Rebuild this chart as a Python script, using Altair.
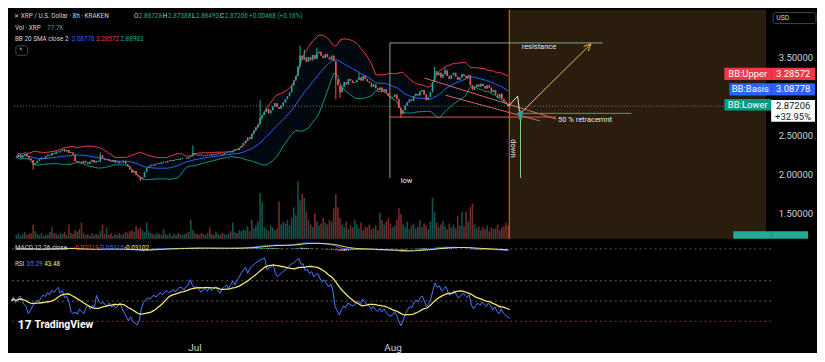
import altair as alt
import pandas as pd

# ---------------- values ----------------
closes = [
    2.22, 2.25, 2.21, 2.24, 2.26, 2.23, 2.20, 2.18, 2.12, 2.14,
    2.17, 2.19, 2.21, 2.20, 2.23, 2.25, 2.24, 2.27, 2.26, 2.29,
    2.28, 2.30, 2.32, 2.29, 2.31, 2.27, 2.28, 2.25, 2.17, 2.15,
    2.16, 2.14, 2.17, 2.15, 2.13, 2.16, 2.18, 2.15, 2.17, 2.16,
    2.24, 2.20, 2.18, 2.19, 2.17, 2.16, 2.18, 2.15, 2.16, 2.14,
    2.15, 2.17, 2.13, 2.10, 2.06, 2.02, 2.04, 1.99, 1.97, 1.94,
    1.96, 2.03, 2.08, 2.10, 2.12, 2.11, 2.13, 2.14, 2.13, 2.15,
    2.16, 2.15, 2.17, 2.18, 2.17, 2.18, 2.19, 2.18, 2.20, 2.21,
    2.21, 2.20, 2.22, 2.23, 2.27, 2.25, 2.24, 2.25, 2.24, 2.23,
    2.24, 2.25, 2.24, 2.26, 2.25, 2.26, 2.27, 2.26, 2.25, 2.27,
    2.28, 2.29, 2.28, 2.30, 2.32, 2.31, 2.34, 2.36, 2.40, 2.43,
    2.47, 2.45, 2.52, 2.56, 2.60, 2.64, 2.72, 2.76, 2.80, 2.84,
    2.78, 2.82, 2.87, 2.91, 2.86, 2.84, 2.88, 2.92, 2.96, 3.00,
    3.05, 3.14, 3.20, 3.26, 3.38, 3.52, 3.47, 3.50, 3.44, 3.50,
    3.46, 3.53, 3.48, 3.55, 3.57, 3.52, 3.49, 3.54, 3.50, 3.47,
    3.52, 3.45, 3.22, 3.14, 3.05, 3.12, 3.18, 3.15, 3.22, 3.20,
    3.17, 3.18, 3.21, 3.24, 3.20, 3.26, 3.22, 3.19, 3.17, 3.12,
    3.15, 3.10, 3.08, 3.11, 3.06, 3.09, 3.04, 3.00, 2.98, 2.99,
    3.02, 2.96, 2.85, 2.77, 2.82, 2.88, 2.92, 2.96, 2.94, 3.00,
    3.03, 3.01, 3.06, 3.08, 3.02, 2.95, 2.99, 3.05, 3.18, 3.32,
    3.27, 3.30, 3.24, 3.28, 3.33, 3.26, 3.22, 3.27, 3.30, 3.25,
    3.21, 3.24, 3.28, 3.26, 3.23, 3.27, 3.14, 3.08, 3.12, 3.15,
    3.12, 3.16, 3.13, 3.10, 3.14, 3.11, 3.05, 3.08, 3.02, 2.98,
    3.03, 2.96, 2.93, 2.90, 2.87206,
]
volumes = [
    4, 6, 3, 5, 7, 4, 5, 6, 15, 8,
    5, 4, 6, 3, 5, 4, 7, 12, 6, 5,
    4, 6, 5, 7, 4, 15, 6, 5, 9, 7,
    10, 17, 6, 4, 5, 3, 6, 4, 5, 4,
    8, 15, 5, 12, 4, 6, 3, 5, 4, 6,
    4, 5, 7, 6, 8, 9, 7, 13, 10, 12,
    9, 7, 17, 8, 6, 5, 4, 6, 5, 4,
    10, 5, 4, 6, 3, 5, 4, 6, 5, 4,
    5, 6, 7, 20, 9, 6, 5, 4, 6, 5,
    4, 6, 12, 5, 4, 7, 5, 4, 6, 5,
    4, 6, 8, 17, 7, 6, 9, 8, 10, 9,
    13, 8, 20, 11, 14, 18, 48, 38, 12, 10,
    8, 14, 12, 9, 11, 39, 15, 18, 16, 20,
    14, 22, 33, 25, 60, 40, 47, 43, 28, 20,
    15, 12, 27, 18, 14, 16, 22, 17, 15, 20,
    18, 32, 47, 33, 22, 15, 12, 18, 10, 14,
    12, 20, 15, 11, 17, 9, 13, 12, 15, 10,
    11, 14, 9, 27, 20, 15, 18, 22, 16, 12,
    14, 20, 32, 26, 15, 12, 18, 10, 14, 16,
    11, 13, 20, 12, 16, 14, 10, 18, 43, 28,
    17, 12, 15, 19, 13, 10, 16, 12, 15, 11,
    24, 14, 28, 13, 28, 18, 33, 37, 15, 11,
    13, 9, 12, 10, 14, 8, 12, 10, 11, 15,
    9, 12, 13, 17, 14,
]
first_open = 2.21
high_wick_index = [40, 84, 116, 135, 137, 143, 163, 199, 204]
high_wick_value = [2.28, 2.37, 2.95, 3.65, 3.60, 3.62, 3.30, 3.38, 3.37]
low_wick_index = [8, 59, 152, 154, 183]
low_wick_value = [2.06, 1.91, 2.96, 2.98, 2.72]

first_candle = "2025-06-02 08:00"
view_start = (2025, 6, 2, 10, 30)
view_end = (2025, 9, 29, 6, 0)
future_start = "2025-08-19 12:00"
future_end = "2025-09-29 06:00"
month_ticks = [(2025, 7, 1), (2025, 8, 1)]
price_ticks = [1.5, 2.0, 2.5, 3.5]          # 3.00000 sits hidden behind the tags
rsi_ticks = [25, 50, 75]
rsi_levels = [70, 50, 30]
last_close = 2.87206
bb_basis_last, bb_upper_last, bb_lower_last = 3.08778, 3.28572, 2.88983

# drawings (time, price)
seg_t1 = ["2025-07-31 14:00", "2025-07-31 14:00", "2025-07-31 14:00", "2025-08-06 01:00",
          "2025-08-09 10:00", "2025-08-19 08:00", "2025-08-20 20:00", "2025-08-21 04:00",
          "2025-08-21 07:00", "2025-08-31 07:30", "2025-09-01 01:00", "2025-08-21 07:00"]
seg_p1 = [3.683, 3.683, 2.732, 3.232, 3.012, 2.870, 3.000, 2.780, 2.780, 3.638, 3.579, 2.750]
seg_t2 = ["2025-07-31 14:00", "2025-09-03 07:00", "2025-08-26 23:00", "2025-08-26 23:00",
          "2025-08-24 09:00", "2025-08-20 20:00", "2025-08-21 04:00", "2025-09-07 21:00",
          "2025-09-01 11:00", "2025-09-01 11:00", "2025-09-01 11:00", "2025-08-21 07:00"]
seg_p2 = [1.951, 3.683, 2.732, 2.707, 2.683, 3.000, 2.768, 2.780, 3.671, 3.671, 3.671, 1.951]
seg_color = ["#7fae7f", "#7fae7f", "#e5534b", "#d9645c", "#d9645c", "#eee8dc", "#eee8dc",
             "#6f8f6f", "#f2b75b", "#f2b75b", "#f2b75b", "#8fd18f"]

note_text = ["resistance", "low"]
note_time = ["2025-08-24 05:00", "2025-08-03 05:00"]
note_price = [3.634, 1.906]
retrace_text, retrace_time, retrace_price = "50 % retracemnt", "2025-08-27 06:00", 2.699
down_text, down_time, down_price = "down", "2025-08-20 04:00", 2.33
marker_time, marker_price = "2025-08-21 07:00", 2.762

# ---------------- layout ----------------
W = 762
KX = W / 778
KY = 0.955
HP, HM, HR = 230, 16, 81
FONT = "Roboto"
LEG = 6.4
WHITE = "#d1d4dc"
GREEN = "#22ab94"
UP, DOWN = "#089981", "#f23645"
BLUE, YELLOW = "#2962ff", "#f5e56b"
RSI_BLUE = "#4a7bff"

# ---------------- derived table ----------------
t = pd.date_range(pd.Timestamp(first_candle), periods=len(closes), freq="8h")
df = pd.DataFrame({"t": t, "close": closes, "volume": volumes})
df["open"] = [first_open] + closes[:-1]
df["high"] = df[["open", "close"]].max(axis=1)
df["low"] = df[["open", "close"]].min(axis=1)
for i, v in zip(high_wick_index, high_wick_value):
    df.loc[i, "high"] = max(v, df.loc[i, "high"])
for i, v in zip(low_wick_index, low_wick_value):
    df.loc[i, "low"] = min(v, df.loc[i, "low"])
df["dir"] = ["up" if c >= o else "down" for o, c in zip(df["open"], df["close"])]

c = df["close"]
basis = c.rolling(20, min_periods=1).mean()
sd = c.rolling(20, min_periods=1).std(ddof=0).fillna(0)
df["bb_mid"], df["bb_up"], df["bb_lo"] = basis, basis + 2 * sd, basis - 2 * sd

ema12 = c.ewm(span=12, adjust=False).mean()
ema26 = c.ewm(span=26, adjust=False).mean()
df["macd"] = ema12 - ema26
df["signal"] = df["macd"].ewm(span=9, adjust=False).mean()
df["hist"] = df["macd"] - df["signal"]
df["zero"] = 0.0
hist_prev = df["hist"].shift(1).fillna(0)
df["hcol"] = [
    ("#26a69a" if h >= p else "#b2dfdb") if h >= 0 else ("#ffcdd2" if h >= p else "#ff5252")
    for h, p in zip(df["hist"], hist_prev)
]

d = c.diff().fillna(0)
seed = d.abs().iloc[1:15].mean() / 2
ag = al = seed
rsi = []
for x in d:
    ag = (ag * 13 + max(x, 0)) / 14
    al = (al * 13 + max(-x, 0)) / 14
    rsi.append(100 - 100 / (1 + ag / al) if al > 0 else 100)
df["rsi"] = rsi
df["rsi_ma"] = df["rsi"].rolling(14, min_periods=1).mean()

# ---------------- scales ----------------
def dt(v):
    return alt.DateTime(year=v[0], month=v[1], date=v[2], hours=v[3], minutes=v[4])

xs = alt.Scale(domain=[dt(view_start), dt(view_end)], nice=False)
ps = alt.Scale(domain=[1.171, 4.110], nice=False, zero=False)
ms = alt.Scale(domain=[-0.27, 0.36], nice=False, zero=False)
rs = alt.Scale(domain=[15.1, 94.7], nice=False, zero=False)
X = alt.X("t:T", scale=xs, axis=None)


def axis_right(values, fmt):
    return alt.Axis(orient="right", values=values, format=fmt, title=None, labelColor=WHITE,
                    labelFont=FONT, labelFontSize=9.5, ticks=False, domain=False, grid=False,
                    labelPadding=7)


def text_layer(rows, weight="normal", align="left"):
    tdf = pd.DataFrame(rows, columns=["x", "y", "txt", "col", "size"])
    return alt.Chart(tdf).mark_text(align=align, baseline="middle", font=FONT, fontWeight=weight).encode(
        x=alt.X("x:Q", scale=None), y=alt.Y("y:Q", scale=None), text="txt:N",
        color=alt.Color("col:N", scale=None), size=alt.Size("size:Q", scale=None))


base = alt.Chart(df)
dir_color = alt.Color("dir:N", scale=alt.Scale(domain=["up", "down"], range=[UP, DOWN]), legend=None)
vol_color = alt.Color("dir:N", scale=alt.Scale(domain=["up", "down"], range=["#26a69a", "#ef5350"]), legend=None)

zone = pd.DataFrame({"a": [pd.Timestamp(future_start)], "b": [pd.Timestamp(future_end)]})
brown = alt.Chart(zone).mark_rect(color="#2a1d0d").encode(
    x=alt.X("a:T", scale=xs, axis=None), x2="b:T", y=alt.value(0), y2=alt.value(HP))
orange = alt.Chart(zone).mark_rule(color="#c8822a", strokeWidth=1).encode(x=alt.X("a:T", scale=xs, axis=None))

vol = base.mark_bar(size=1.6, opacity=0.5).encode(
    x=X, y=alt.Y("volume:Q", scale=alt.Scale(domain=[0, 240]), axis=None), color=vol_color)

bb_fill = base.mark_area(color="#2196f3", opacity=0.06).encode(
    x=X, y=alt.Y("bb_lo:Q", scale=ps, axis=None), y2="bb_up:Q")
bb_lines = [
    base.mark_line(color=col, strokeWidth=1).encode(x=X, y=alt.Y(f"{f}:Q", scale=ps, axis=None))
    for f, col in [("bb_up", "#f23645"), ("bb_lo", "#089981"), ("bb_mid", BLUE)]
]
wicks = base.mark_rule(strokeWidth=1).encode(
    x=X, y=alt.Y("low:Q", scale=ps, axis=None), y2="high:Q", color=dir_color)
bodies = base.mark_bar(size=1.6).encode(
    x=X, y=alt.Y("open:Q", scale=ps, axis=axis_right(price_ticks, ".5f")), y2="close:Q", color=dir_color)

price_line = alt.Chart(pd.DataFrame({"p": [last_close]})).mark_rule(
    strokeDash=[1, 2], color="#9598a1", opacity=0.8).encode(y=alt.Y("p:Q", scale=ps, axis=None))

segs = pd.DataFrame({"t1": pd.to_datetime(seg_t1), "p1": seg_p1, "t2": pd.to_datetime(seg_t2),
                     "p2": seg_p2, "c": seg_color})
draw = alt.Chart(segs).mark_rule(strokeWidth=1).encode(
    x=alt.X("t1:T", scale=xs, axis=None), x2="t2:T", y=alt.Y("p1:Q", scale=ps, axis=None), y2="p2:Q",
    color=alt.Color("c:N", scale=None))

notes = pd.DataFrame({"t": pd.to_datetime(note_time), "p": note_price, "s": note_text})
note_marks = alt.Chart(notes).mark_text(color="#e8e8e8", font=FONT, fontSize=7.5, baseline="middle").encode(
    x=alt.X("t:T", scale=xs, axis=None), y=alt.Y("p:Q", scale=ps, axis=None), text="s:N")
retrace = alt.Chart(pd.DataFrame({"t": [pd.Timestamp(retrace_time)], "p": [retrace_price], "s": [retrace_text]})).mark_text(
    color="#e8e8e8", font=FONT, fontSize=7.5, align="left", baseline="middle").encode(
    x=alt.X("t:T", scale=xs, axis=None), y=alt.Y("p:Q", scale=ps, axis=None), text="s:N")
down = alt.Chart(pd.DataFrame({"t": [pd.Timestamp(down_time)], "p": [down_price], "s": [down_text]})).mark_text(
    color="#e8e8e8", font=FONT, fontSize=7.5, angle=90, baseline="middle").encode(
    x=alt.X("t:T", scale=xs, axis=None), y=alt.Y("p:Q", scale=ps, axis=None), text="s:N")
arrow = alt.Chart(pd.DataFrame({"t": [pd.Timestamp(marker_time)], "p": [marker_price]})).mark_point(
    shape="M0,-1L0.9,-0.1L0.35,-0.1L0.35,1L-0.35,1L-0.35,-0.1L-0.9,-0.1Z",
    filled=True, color="#26a69a", opacity=1, size=90).encode(
    x=alt.X("t:T", scale=xs, axis=None), y=alt.Y("p:Q", scale=ps, axis=None))

# right-hand tags
tags = pd.DataFrame({
    "x1": [W - 47, W, W - 42, W, W - 47, W],
    "x2": [W, W + 44, W, W + 44, W, W + 44],
    "p1": [bb_upper_last - 0.079, bb_upper_last - 0.079, bb_basis_last - 0.079, bb_basis_last - 0.079,
           bb_lower_last - 0.075, 2.671],
    "p2": [bb_upper_last + 0.079, bb_upper_last + 0.079, bb_basis_last + 0.079, bb_basis_last + 0.079,
           bb_lower_last + 0.075, 2.951],
    "f": ["#f23645", "#f23645", BLUE, BLUE, "#089981", "#ffffff"],
})
tag_rects = alt.Chart(tags).mark_rect().encode(
    x=alt.X("x1:Q", scale=None), x2="x2:Q", y=alt.Y("p1:Q", scale=ps, axis=None), y2="p2:Q",
    color=alt.Color("f:N", scale=None))
tag_txt = pd.DataFrame({
    "x": [W - 23.5, W + 22, W - 21, W + 22, W - 23.5, W + 22, W + 22],
    "p": [bb_upper_last, bb_upper_last, bb_basis_last, bb_basis_last, bb_lower_last, 2.872, 2.732],
    "s": ["BB:Upper", f"{bb_upper_last:.5f}", "BB:Basis", f"{bb_basis_last:.5f}", "BB:Lower",
          f"{last_close:.5f}", "+32.95%"],
    "c": ["#ffffff"] * 5 + ["#131722", "#131722"],
})
tag_text = alt.Chart(tag_txt).mark_text(font=FONT, fontSize=9.5, baseline="middle").encode(
    x=alt.X("x:Q", scale=None), y=alt.Y("p:Q", scale=ps, axis=None), text="s:N",
    color=alt.Color("c:N", scale=None))
vol_tag = alt.Chart(pd.DataFrame({"x1": [W - 38, W], "x2": [W, W + 37]})).mark_rect(color="#22ab94").encode(
    x=alt.X("x1:Q", scale=None), x2="x2:Q", y=alt.value(233 * KY), y2=alt.value(HP))
usd_box = alt.Chart(pd.DataFrame({"a": [0]})).mark_rect(
    fill="#000000", stroke="#434651", strokeWidth=1, cornerRadius=2).encode(
    x=alt.value(W + 2), x2=alt.value(W + 45), y=alt.value(3), y2=alt.value(14))
btn_box = alt.Chart(pd.DataFrame({"a": [0]})).mark_rect(
    fill="#000000", stroke="#434651", strokeWidth=1, cornerRadius=2).encode(
    x=alt.value(4 * KX), x2=alt.value(16 * KX), y=alt.value(38 * KY), y2=alt.value(48 * KY))

hdr = [
    (2, 7, "✕", WHITE, 6),
    (9, 7, "XRP / U.S. Dollar · 8h · KRAKEN", WHITE, LEG),
    (125, 7, "O", WHITE, LEG), (130, 7, "2.86728", GREEN, LEG),
    (154.5, 7, "H", WHITE, LEG), (160, 7, "2.87388", GREEN, LEG),
    (184.5, 7, "L", WHITE, LEG), (188.5, 7, "2.86493", GREEN, LEG),
    (213, 7, "C", WHITE, LEG), (218, 7, "2.87206", GREEN, LEG),
    (243, 7, "+0.00468 (+0.16%)", GREEN, LEG),
    (3, 19, "Vol · XRP", WHITE, LEG), (36, 19, "77.7K", GREEN, LEG),
    (3, 31, "BB 20 SMA close 2", WHITE, LEG), (61, 31, f"{bb_basis_last:.5f}", BLUE, LEG),
    (86, 31, f"{bb_upper_last:.5f}", "#f23645", LEG), (111, 31, f"{bb_lower_last:.5f}", GREEN, LEG),
    (7.5, 44, "^", WHITE, 7),
]
hdr_rows = [(x * KX, y * KY, s, col, size) for x, y, s, col, size in hdr]
hdr_rows.append((W + 5, 8.5, "USD", WHITE, 7))
header = text_layer(hdr_rows)

price_panel = alt.layer(
    brown, orange, vol, bb_fill, *bb_lines, wicks, bodies, price_line, draw,
    note_marks, retrace, down, arrow, vol_tag, tag_rects, tag_text, usd_box, btn_box, header,
).resolve_scale(y="independent").properties(width=W, height=HP)

# ---------------- MACD pane ----------------
macd_zero = alt.Chart(pd.DataFrame({"v": [0.0]})).mark_rule(
    strokeDash=[2, 3], color="#787b86", opacity=0.7).encode(
    y=alt.Y("v:Q", scale=ms, axis=axis_right([0], ".5f")))
macd_hist = base.mark_bar(size=1.6).encode(
    x=X, y=alt.Y("hist:Q", scale=ms, axis=None), y2="zero:Q", color=alt.Color("hcol:N", scale=None))
macd_line = base.mark_line(color=BLUE, strokeWidth=1).encode(x=X, y=alt.Y("macd:Q", scale=ms, axis=None))
sig_line = base.mark_line(color=YELLOW, strokeWidth=1).encode(x=X, y=alt.Y("signal:Q", scale=ms, axis=None))
macd_hdr = text_layer([(x * KX, 9 * KY, s, col, LEG) for x, s, col in [
    (3, "MACD 12 26 close", WHITE), (63, "-0.02213", "#f23645"),
    (89, "-0.05315", BLUE), (115, "-0.03102", YELLOW)]])
macd_panel = alt.layer(macd_zero, macd_hist, macd_line, sig_line, macd_hdr).properties(width=W, height=HM)

# ---------------- RSI pane ----------------
lv = pd.DataFrame({"v": rsi_levels, "c": ["#787b86", "#787b86", "#a04040"]})
rsi_rules = alt.Chart(lv).mark_rule(strokeDash=[2, 3], opacity=0.8).encode(
    y=alt.Y("v:Q", scale=rs, axis=axis_right(rsi_ticks, ".2f")), color=alt.Color("c:N", scale=None))
x_axis = alt.Axis(values=[alt.DateTime(year=y, month=m, date=dd) for y, m, dd in month_ticks], format="%b",
                  title=None, labelColor=WHITE, labelFont=FONT, labelFontSize=10, ticks=False,
                  domain=False, grid=False, labelPadding=6)
XR = alt.X("t:T", scale=xs, axis=x_axis)
rsi_line = base.mark_line(color=RSI_BLUE, strokeWidth=1).encode(x=XR, y=alt.Y("rsi:Q", scale=rs, axis=None))
rsi_ma = base.mark_line(color=YELLOW, strokeWidth=1.3).encode(x=XR, y=alt.Y("rsi_ma:Q", scale=rs, axis=None))
rsi_hdr = text_layer([(x * KX, 9 * KY, s, col, LEG) for x, s, col in [
    (3, "RSI", WHITE), (15, "35.29", RSI_BLUE), (33, "43.48", YELLOW)]])
logo = text_layer([(6 * KX, 73 * KY, "17", "#ffffff", 12), (23 * KX, 73 * KY, "TradingView", "#ffffff", 10.5)],
                  weight="bold")
rsi_panel = alt.layer(rsi_rules, rsi_line, rsi_ma, rsi_hdr, logo).properties(width=W, height=HR)

chart = alt.vconcat(price_panel, macd_panel, rsi_panel, spacing=0).properties(
    background="#000000", padding={"left": 0, "right": 0, "top": 0, "bottom": 0}
).configure_view(stroke=None)

chart.save("out.html", embed_options={"renderer": "svg", "actions": False})
